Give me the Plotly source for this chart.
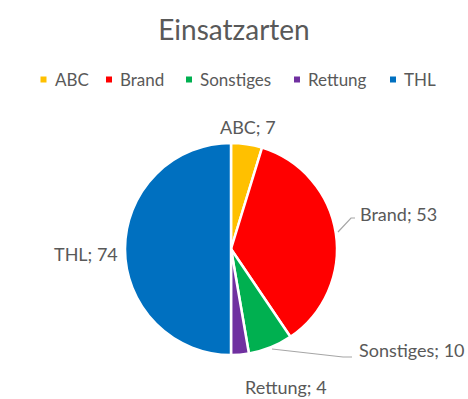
import plotly.graph_objects as go

categories = ["ABC", "Brand", "Sonstiges", "Rettung", "THL"]
values = [7, 53, 10, 4, 74]
colors = ["#FFC000", "#FF0000", "#00B050", "#7030A0", "#0070C0"]

W, H = 468, 399
FONT = "Lato"
GRAY = "#595959"

def px(x):
    return x / W

def py(y):
    return 1 - y / H

fig = go.Figure()
fig.add_trace(go.Pie(
    labels=categories,
    values=values,
    sort=False,
    direction="clockwise",
    rotation=0,
    marker=dict(colors=colors, line=dict(color="white", width=2.5)),
    textinfo="none",
    hoverinfo="label+value",
    domain=dict(x=[px(125), px(337)], y=[py(355), py(143)]),
    showlegend=False,
))

# data labels "Kategorie; Wert"
label_pos = {
    "ABC": (248, 127, "center"),
    "Brand": (358, 214, "left"),
    "Sonstiges": (357, 350, "left"),
    "Rettung": (286, 387, "center"),
    "THL": (86, 254, "center"),
}
annotations = []
for cat, val in zip(categories, values):
    x, y, anc = label_pos[cat]
    annotations.append(dict(
        x=px(x), y=py(y), xref="paper", yref="paper",
        text=f"{cat}; {val}", showarrow=False, xanchor=anc, yanchor="middle",
        font=dict(family=FONT, size=18, color=GRAY),
    ))

shapes = [
    dict(type="path", xref="paper", yref="paper",
         path=f"M {px(338)} {py(232)} L {px(351)} {py(218)} L {px(355)} {py(218)}",
         line=dict(color="#A6A6A6", width=1.2)),
    dict(type="path", xref="paper", yref="paper",
         path=f"M {px(272)} {py(349)} L {px(343)} {py(357)} L {px(352)} {py(357)}",
         line=dict(color="#A6A6A6", width=1.2)),
]

# legend (Excel style: small squares with text close to them)
legend_x = [43.5, 109, 189, 297, 393]
legend_y = 79.5
for cat, col, lx in zip(categories, colors, legend_x):
    shapes.append(dict(type="rect", xref="paper", yref="paper",
                       x0=px(lx - 3), x1=px(lx + 3), y0=py(legend_y + 3), y1=py(legend_y - 3),
                       fillcolor=col, line=dict(width=0)))
    annotations.append(dict(
        x=px(lx + 9), y=py(legend_y), xref="paper", yref="paper",
        text=cat, showarrow=False, xanchor="left", yanchor="middle",
        font=dict(family=FONT, size=17, color=GRAY),
    ))

fig.update_layout(
    width=W, height=H,
    margin=dict(l=0, r=0, t=0, b=0),
    paper_bgcolor="white",
    plot_bgcolor="white",
    title=dict(text="Einsatzarten", x=0.5, xanchor="center", y=py(30), yanchor="middle",
               font=dict(family=FONT, size=28, color=GRAY)),
    annotations=annotations,
    shapes=shapes,
    showlegend=False,
)

fig.write_html("out.html", config={"displayModeBar": False},
               post_script="document.body.style.margin='0';document.body.style.padding='0';")
